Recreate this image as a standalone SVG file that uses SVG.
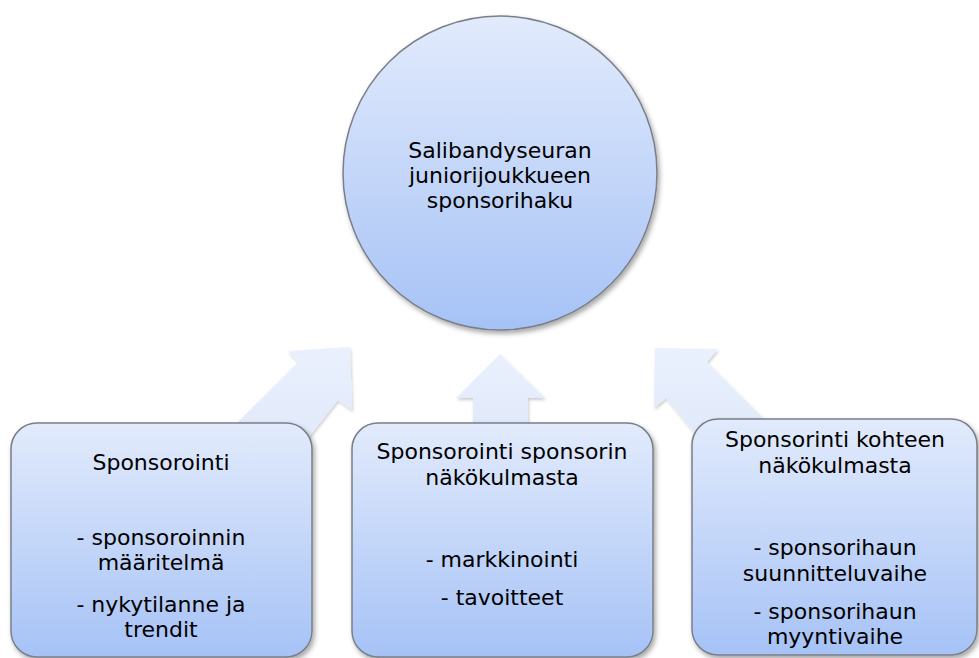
<svg xmlns="http://www.w3.org/2000/svg" width="979" height="658" viewBox="0 0 979 658">
<defs>
<linearGradient id="gNode" x1="0" y1="0" x2="0" y2="1">
<stop offset="0" stop-color="#e2ebfc"/>
<stop offset="1" stop-color="#a6c2f6"/>
</linearGradient>
<linearGradient id="gArrow" x1="0" y1="0" x2="0" y2="1">
<stop offset="0" stop-color="#eaf0fd"/>
<stop offset="1" stop-color="#e1eafb"/>
</linearGradient>
<filter id="shadow" x="-10%" y="-10%" width="125%" height="125%">
<feDropShadow dx="2" dy="3" stdDeviation="2.5" flood-color="#000" flood-opacity="0.35"/>
</filter>
<filter id="ashadow" x="-10%" y="-10%" width="125%" height="125%">
<feDropShadow dx="1" dy="2" stdDeviation="1.5" flood-color="#000" flood-opacity="0.2"/>
</filter>
</defs>
<style>
.node{fill:url(#gNode);stroke:#7a7f88;stroke-width:1.5;filter:url(#shadow)}
.arrow{fill:url(#gArrow);stroke:none;filter:url(#ashadow)}
text{font-family:"DejaVu Sans","Liberation Sans",sans-serif;font-size:22px;fill:#000;text-anchor:middle}
</style>
<g id="connectors">
<polygon class="arrow" points="350,347 288,351 298,362 230,430 308,438 338,400 352,410"/>
<polygon class="arrow" points="500,354 456,398 473,398 473,426 528,426 528,398 545,398"/>
<polygon class="arrow" points="655,348 718,349 707,362 772,427 694,432 666,398 654,408"/>
</g>
<g id="center">
<circle class="node" cx="500" cy="173" r="157"/>
<text x="500" y="158">Salibandyseuran</text>
<text x="500" y="183">juniorijoukkueen</text>
<text x="500" y="208">sponsorihaku</text>
</g>
<g id="box-left">
<rect class="node" x="11" y="423" width="301" height="234" rx="26" ry="26"/>
<text x="161" y="470">Sponsorointi</text>
<text x="161" y="545">- sponsoroinnin</text>
<text x="161" y="570">määritelmä</text>
<text x="161" y="612">- nykytilanne ja</text>
<text x="161" y="637">trendit</text>
</g>
<g id="box-middle">
<rect class="node" x="352" y="423" width="301" height="234" rx="26" ry="26"/>
<text x="502" y="459">Sponsorointi sponsorin</text>
<text x="502" y="485">näkökulmasta</text>
<text x="502" y="567">- markkinointi</text>
<text x="502" y="605">- tavoitteet</text>
</g>
<g id="box-right">
<rect class="node" x="692" y="419" width="285" height="236" rx="26" ry="26"/>
<text x="835" y="447">Sponsorinti kohteen</text>
<text x="835" y="473">näkökulmasta</text>
<text x="835" y="555">- sponsorihaun</text>
<text x="835" y="581">suunnitteluvaihe</text>
<text x="835" y="619">- sponsorihaun</text>
<text x="835" y="644">myyntivaihe</text>
</g>
</svg>
